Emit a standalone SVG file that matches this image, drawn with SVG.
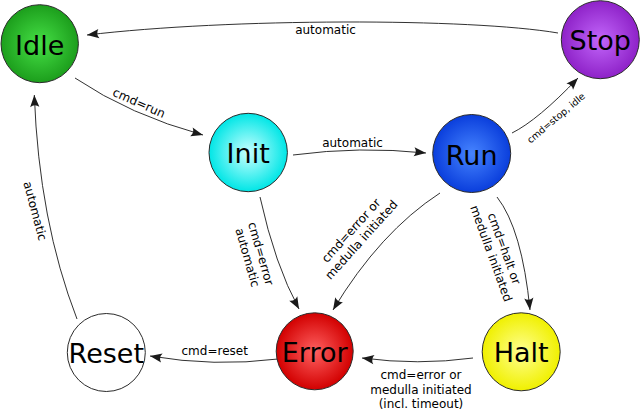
<svg xmlns="http://www.w3.org/2000/svg" width="640" height="412" viewBox="0 0 640 412">
<style>
.node{stroke:#2b2b2b;stroke-width:1}
.nt{font-family:"DejaVu Sans",Verdana,sans-serif;font-size:27px;fill:#000;text-anchor:middle}
.edge{fill:none;stroke:#1a1a1a;stroke-width:0.9;marker-end:url(#arr)}
.lb{font-family:"DejaVu Sans",Verdana,sans-serif;font-size:12px;fill:#000;text-anchor:middle}
.sm{font-size:9.5px}
</style>
<defs>
<marker id="arr" markerUnits="userSpaceOnUse" markerWidth="16" markerHeight="12" viewBox="-13 -6 14 12" refX="0" refY="0" orient="auto">
<path d="M0,0 L-12,-4.6 Q-8.6,0 -12,4.6 Z" fill="#1a1a1a"/>
</marker>
<radialGradient id="gIdle"><stop offset="0" stop-color="#46e046"/><stop offset="1" stop-color="#1c9e1c"/></radialGradient>
<radialGradient id="gStop"><stop offset="0" stop-color="#c266fa"/><stop offset="1" stop-color="#8e22c8"/></radialGradient>
<radialGradient id="gInit"><stop offset="0" stop-color="#c8ffff"/><stop offset="1" stop-color="#00e6e6"/></radialGradient>
<radialGradient id="gRun"><stop offset="0" stop-color="#4684ff"/><stop offset="1" stop-color="#0a3edc"/></radialGradient>
<radialGradient id="gErr"><stop offset="0" stop-color="#ff6060"/><stop offset="1" stop-color="#d20000"/></radialGradient>
<radialGradient id="gHalt"><stop offset="0" stop-color="#ffff90"/><stop offset="1" stop-color="#f0f000"/></radialGradient>
</defs>

<g id="connectors">
<g id="e-stop-idle"><path class="edge" d="M558,33 C470,18 230,18 87,35"/><text class="lb" x="325.5" y="33.5">automatic</text></g>
<g id="e-idle-init"><path class="edge" d="M75,78 Q130,115 203,135"/><text class="lb" transform="translate(139,103) rotate(24)" y="4">cmd=run</text></g>
<g id="e-init-run"><path class="edge" d="M293,155 Q360,146 426,153"/><text class="lb" x="352.5" y="147">automatic</text></g>
<g id="e-run-stop"><path class="edge" d="M512,133 Q538,120 578,78"/><text class="lb sm" transform="translate(556,118) rotate(-40)" y="3.3">cmd=stop, idle</text></g>
<g id="e-init-error"><path class="edge" d="M260,197 Q275,265 299,309"/><text class="lb" transform="translate(254.5,255.5) rotate(74)"><tspan x="0" y="-2.6">cmd=error</tspan><tspan x="0" y="11.4">automatic</tspan></text></g>
<g id="e-run-error"><path class="edge" d="M440,193 Q380,232 333,310"/><text class="lb" transform="translate(356,235) rotate(-48)"><tspan x="0" y="-2.6">cmd=error or</tspan><tspan x="0" y="11.4">medulla initiated</tspan></text></g>
<g id="e-run-halt"><path class="edge" d="M497,197 Q522,229 530,310"/><text class="lb" transform="translate(498,251) rotate(70)"><tspan x="0" y="-2.6">cmd=halt or</tspan><tspan x="0" y="11.4">medulla initiated</tspan></text></g>
<g id="e-halt-error"><path class="edge" d="M473,358 Q418,365.5 362,358"/><text class="lb"><tspan x="421" y="378.5">cmd=error or</tspan><tspan x="421" y="393.5">medulla initiated</tspan><tspan x="421" y="408">(incl. timeout)</tspan></text></g>
<g id="e-error-reset"><path class="edge" d="M278,359 Q214,367 150,356"/><text class="lb" x="214.7" y="355">cmd=reset</text></g>
<g id="e-reset-idle"><path class="edge" d="M77,319 Q39,221 34.3,95"/><text class="lb" transform="translate(35,211) rotate(75)" y="4">automatic</text></g>
</g>

<g id="idle"><ellipse class="node" cx="39.7" cy="43.7" rx="38.7" ry="39" fill="url(#gIdle)"/><text class="nt" x="39.7" y="54.5">Idle</text></g>
<g id="stop"><circle class="node" cx="600.3" cy="39.7" r="39" fill="url(#gStop)"/><text class="nt" x="600.3" y="50">Stop</text></g>
<g id="init"><circle class="node" cx="248.2" cy="152.5" r="39.2" fill="url(#gInit)"/><text class="nt" x="248.2" y="163">Init</text></g>
<g id="run"><circle class="node" cx="471.7" cy="153.5" r="39" fill="url(#gRun)"/><text class="nt" x="471.7" y="164.5">Run</text></g>
<g id="error"><circle class="node" cx="314.7" cy="351.3" r="38.5" fill="url(#gErr)"/><text class="nt" x="314.7" y="362">Error</text></g>
<g id="halt"><circle class="node" cx="521.2" cy="351.8" r="39" fill="url(#gHalt)"/><text class="nt" x="521.2" y="362.3">Halt</text></g>
<g id="reset"><circle class="node" cx="106.3" cy="352.5" r="39" fill="#fff"/><text class="nt" x="106.3" y="363">Reset</text></g>
</svg>
